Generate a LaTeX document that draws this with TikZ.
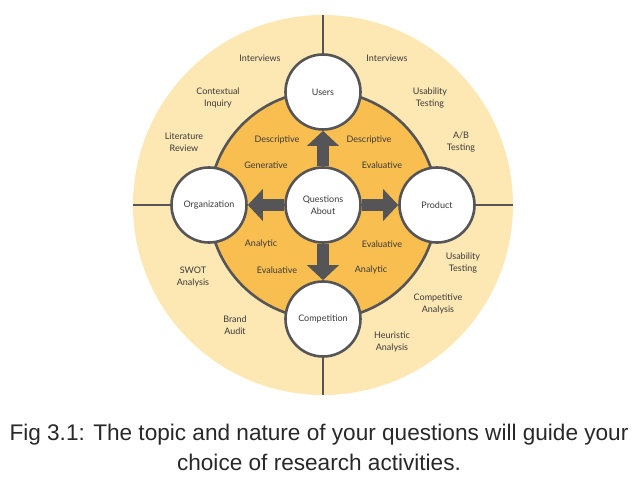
\documentclass[tikz,border=0pt]{standalone}
\usepackage{fontspec}
\usetikzlibrary{arrows.meta}
\newfontfamily\labelfont{Lato}
\newfontfamily\captionfont{Liberation Sans}
\definecolor{TopicOuter}{RGB}{253,232,180}
\definecolor{TopicInner}{RGB}{249,190,80}
\definecolor{TopicInk}{RGB}{85,85,87}
\definecolor{TopicText}{RGB}{58,58,58}
\definecolor{TopicCaption}{RGB}{40,40,40}
\tikzset{
    topic/diagram/.style={
        font=\labelfont\fontsize{9}{12}\selectfont,
        text=TopicText,
        line cap=butt,
        line join=round,
        every node/.style={inner sep=1pt, outer sep=0pt}
    },
    topic/outer/.style={fill=TopicOuter, draw=none},
    topic/inner/.style={fill=TopicInner, draw=TopicInk, line width=2.6pt},
    topic/spoke/.style={draw=TopicInk, line width=2.6pt},
    topic/circle/.style={
        circle, fill=white, draw=TopicInk, line width=2.6pt,
        minimum size=75pt, align=center, outer sep=1.3pt
    },
    topic/arrow/.style={
        draw=TopicInk, line width=12pt,
        -{Triangle[length=15pt, width=31pt]}
    },
    topic/label/.style={align=center},
    topic/caption/.style={
        font=\captionfont\fontsize{22.6}{30}\selectfont,
        text=TopicCaption, align=center
    }
}

\begin{document}
\begin{tikzpicture}[topic/diagram, x=1pt, y=1pt]
    \useasboundingbox (-323,-274) rectangle (315,205);
    \fill[topic/outer] (0,0) circle (190);
    \draw[topic/inner] (0,0) circle (114);
    \coordinate (top) at (0,190);
    \coordinate (bottom) at (0,-190);
    \coordinate (left) at (-190,0);
    \coordinate (right) at (190,0);
    \node[topic/circle] (questions) at (0,0) {Questions\\About};
    \node[topic/circle] (users) at (0,113) {Users};
    \node[topic/circle] (product) at (114,0) {Product};
    \node[topic/circle] (organization) at (-114,0) {Organization};
    \node[topic/circle] (competition) at (0,-114) {Competition};
    \draw[topic/spoke] (users) -- (top);
    \draw[topic/spoke] (competition) -- (bottom);
    \draw[topic/spoke] (organization) -- (left);
    \draw[topic/spoke] (product) -- (right);
    \draw[topic/arrow] (questions) -- (users);
    \draw[topic/arrow] (questions) -- (product);
    \draw[topic/arrow] (questions) -- (organization);
    \draw[topic/arrow] (questions) -- (competition);
    \node[topic/label] (users-interviews-l) at (-63,147) {Interviews};
    \node[topic/label] (users-contextual) at (-105,107) {Contextual\\Inquiry};
    \node[topic/label] (org-literature) at (-139,63) {Literature\\Review};
    \node[topic/label] (users-descriptive-l) at (-46,65) {Descriptive};
    \node[topic/label] (org-generative) at (-57,40) {Generative};
    \node[topic/label] (users-interviews-r) at (64,147) {Interviews};
    \node[topic/label] (users-usability) at (107,107) {Usability\\Testing};
    \node[topic/label] (product-ab) at (138,63) {A/B\\Testing};
    \node[topic/label] (users-descriptive-r) at (46,65) {Descriptive};
    \node[topic/label] (product-evaluative-t) at (59,40) {Evaluative};
    \node[topic/label] (org-analytic) at (-62,-39) {Analytic};
    \node[topic/label] (comp-evaluative) at (-46,-65) {Evaluative};
    \node[topic/label] (org-swot) at (-130,-72) {SWOT\\Analysis};
    \node[topic/label] (comp-brand) at (-88,-120) {Brand\\Audit};
    \node[topic/label] (product-evaluative-b) at (59,-39) {Evaluative};
    \node[topic/label] (comp-analytic) at (48,-65) {Analytic};
    \node[topic/label] (product-usability) at (140,-58) {Usability\\Testing};
    \node[topic/label] (comp-competitive) at (115,-99) {Competitive\\Analysis};
    \node[topic/label] (comp-heuristic) at (69,-137) {Heuristic\\Analysis};
    \node[topic/caption] (caption) at (-4,-242)
        {Fig 3.1: The topic and nature of your questions will guide your\\
         choice of research activities.};
\end{tikzpicture}
\end{document}
